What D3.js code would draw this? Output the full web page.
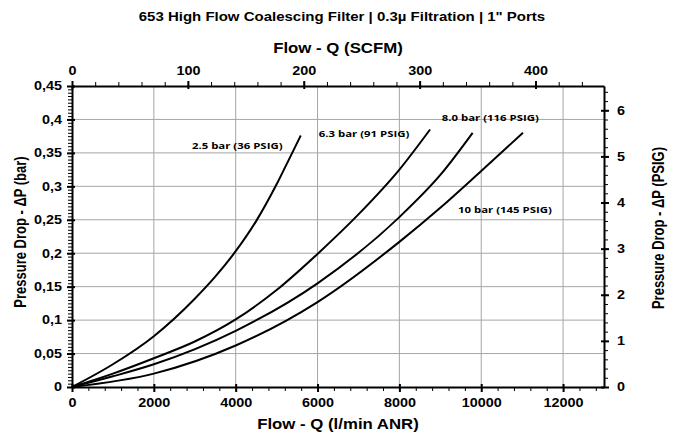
<!DOCTYPE html>
<html>
<head>
<meta charset="utf-8">
<script src="https://cdn.jsdelivr.net/npm/d3@7"></script>
<style>
  body { margin: 0; background: #fff; }
  svg text {
    font-family: "Liberation Sans", Arial, sans-serif; font-weight: bold; fill: #000;
    transform-box: fill-box; transform-origin: center; transform: scaleX(1.2);
  }
  svg text.left { transform-origin: left; }
  svg text.right { transform-origin: right; }
  svg text.vert { transform: scaleY(1.2); }
  .lbl { font-family: "Open Sans", sans-serif; font-size: 9.5px; }
  .grid line { stroke: #a6a6a6; stroke-width: 1; }
</style>
</head>
<body>
<div id="chart"></div>
<script>
// flow in l/min ANR, pressure drop in bar
const series = ['2.5 bar (36 PSIG)', '6.3 bar (91 PSIG)', '8.0 bar (116 PSIG)', '10 bar (145 PSIG)'];
const curve25 = [[0, 0], [1000, 0.034], [2000, 0.076], [3000, 0.132], [3500, 0.165], [4000, 0.203], [4500, 0.248], [5000, 0.303], [5300, 0.340], [5590, 0.376]];
const curve63 = [[0, 0], [1000, 0.020], [2000, 0.043], [3000, 0.068], [4000, 0.101], [5000, 0.145], [6000, 0.199], [7000, 0.258], [8000, 0.325], [8750, 0.385]];
const curve80 = [[0, 0], [1000, 0.016], [2000, 0.034], [4000, 0.084], [6000, 0.155], [8000, 0.254], [9000, 0.317], [9790, 0.380]];
const curve10 = [[0, 0], [2000, 0.020], [4000, 0.062], [6000, 0.127], [8000, 0.217], [9000, 0.268], [10000, 0.323], [11020, 0.380]];
const curves = [curve25, curve63, curve80, curve10];
// label anchor (flow, bar)
const labelPos = [[2930, 0.356], [6030, 0.374], [9035, 0.398], [9433, 0.260]];

const xTicks = [0, 2000, 4000, 6000, 8000, 10000, 12000];
const topTicks = [0, 100, 200, 300, 400];
const yTicks = [0, 0.05, 0.1, 0.15, 0.2, 0.25, 0.3, 0.35, 0.4, 0.45];
const psiTicks = [0, 1, 2, 3, 4, 5, 6];

const W = 684, H = 435;
const margin = { l: 72, r: 80, t: 86, b: 48 };
const width = W - margin.l - margin.r;
const height = H - margin.t - margin.b;

const LPM_PER_SCFM = 28.3168;
const PSI_PER_BAR = 14.5038;

const x = d3.scaleLinear([0, 13000], [0, width]);
const xTop = d3.scaleLinear([0, 13000 / LPM_PER_SCFM], [0, width]);
const y = d3.scaleLinear([0, 0.45], [height, 0]);
const yPsi = d3.scaleLinear([0, 0.45 * PSI_PER_BAR], [height, 0]);

const svg = d3.select('#chart').append('svg').attr('width', W).attr('height', H);

svg.append('text').attr('x', 342).attr('y', 21).attr('text-anchor', 'middle')
  .style('font-size', '12.5px')
  .text('653 High Flow Coalescing Filter | 0.3\u00b5 Filtration | 1" Ports');

const g = svg.append('g').attr('transform', `translate(${margin.l}, ${margin.t})`);

// grid
const grid = g.append('g').attr('class', 'grid');
grid.selectAll('.vg').data(xTicks.slice(1)).join('line')
  .attr('x1', (d) => x(d)).attr('x2', (d) => x(d)).attr('y1', 0).attr('y2', height);
grid.selectAll('.hg').data(yTicks.slice(1, -1)).join('line')
  .attr('x1', 0).attr('x2', width).attr('y1', (d) => y(d)).attr('y2', (d) => y(d));

// minor ticks
const minorX = d3.range(0, 13001, 400);
const minorTop = d3.range(0, 460, 20);
const minorY = d3.range(0, 0.4501, 0.005);
const minorPsi = d3.range(0, 6.5, 0.2);

g.append('g').attr('transform', `translate(0, ${height})`)
  .call(d3.axisBottom(x).tickValues(minorX).tickSize(4).tickFormat(''))
  .call((a) => a.select('.domain').remove());
g.append('g')
  .call(d3.axisTop(xTop).tickValues(minorTop).tickSize(4).tickFormat(''))
  .call((a) => a.select('.domain').remove());
g.append('g')
  .call(d3.axisLeft(y).tickValues(minorY).tickSize(4).tickFormat(''))
  .call((a) => a.select('.domain').remove());
g.append('g').attr('transform', `translate(${width}, 0)`)
  .call(d3.axisRight(yPsi).tickValues(minorPsi).tickSize(4).tickFormat(''))
  .call((a) => a.select('.domain').remove());

// major axes
const styleAxis = (a) => {
  a.select('.domain').attr('stroke-width', 2);
  a.selectAll('.tick line').attr('stroke-width', 2);
  a.selectAll('.tick text').style('font-size', '12px').style('font-weight', 'bold');
};
g.append('g').attr('transform', `translate(0, ${height})`)
  .call(d3.axisBottom(x).tickValues(xTicks).tickSizeInner(5).tickSizeOuter(0).tickPadding(6).tickFormat(d3.format('d')))
  .call(styleAxis)
  .call((a) => a.selectAll('.tick line').attr('y1', -3));
g.append('g')
  .call(d3.axisTop(xTop).tickValues(topTicks).tickSizeInner(5).tickSizeOuter(0).tickPadding(6))
  .call(styleAxis)
  .call((a) => a.selectAll('.tick line').attr('y1', 3));
g.append('g')
  .call(d3.axisLeft(y).tickValues(yTicks).tickSizeInner(5).tickSizeOuter(0).tickPadding(5)
    .tickFormat((d) => (d === 0 ? '0' : String(+d.toFixed(2)).replace('.', ','))))
  .call(styleAxis)
  .call((a) => a.selectAll('.tick line').attr('x1', 3))
  .call((a) => a.selectAll('.tick text').attr('class', 'right'));
g.append('g').attr('transform', `translate(${width}, 0)`)
  .call(d3.axisRight(yPsi).tickValues(psiTicks).tickSizeInner(5).tickSizeOuter(0).tickPadding(8).tickFormat(d3.format('d')))
  .call(styleAxis)
  .call((a) => a.selectAll('.tick line').attr('x1', -3))
  .call((a) => a.selectAll('.tick text').attr('class', 'left'));

// curves
const line = d3.line().x((d) => x(d[0])).y((d) => y(d[1])).curve(d3.curveMonotoneX);
g.selectAll('.curve').data(curves).join('path')
  .attr('d', line).attr('fill', 'none').attr('stroke', '#000').attr('stroke-width', 2);

g.selectAll('.lbl').data(series).join('text').attr('class', 'lbl left')
  .attr('x', (d, i) => x(labelPos[i][0])).attr('y', (d, i) => y(labelPos[i][1]))
  .text((d) => d);

// axis titles
svg.append('text').attr('x', 338).attr('y', 53).attr('text-anchor', 'middle')
  .style('font-size', '14px').text('Flow - Q (SCFM)');
svg.append('text').attr('x', 338).attr('y', 429).attr('text-anchor', 'middle')
  .style('font-size', '14px').text('Flow - Q (l/min ANR)');
svg.append('g').attr('transform', 'translate(25, 232) rotate(-90)')
  .append('text').attr('class', 'vert').attr('text-anchor', 'middle').style('font-size', '13px')
  .text('Pressure Drop - \u0394P (bar)');
svg.append('g').attr('transform', 'translate(663, 228) rotate(-90)')
  .append('text').attr('class', 'vert').attr('text-anchor', 'middle').style('font-size', '13px')
  .text('Pressure Drop - \u0394P (PSIG)');
</script>
</body>
</html>
